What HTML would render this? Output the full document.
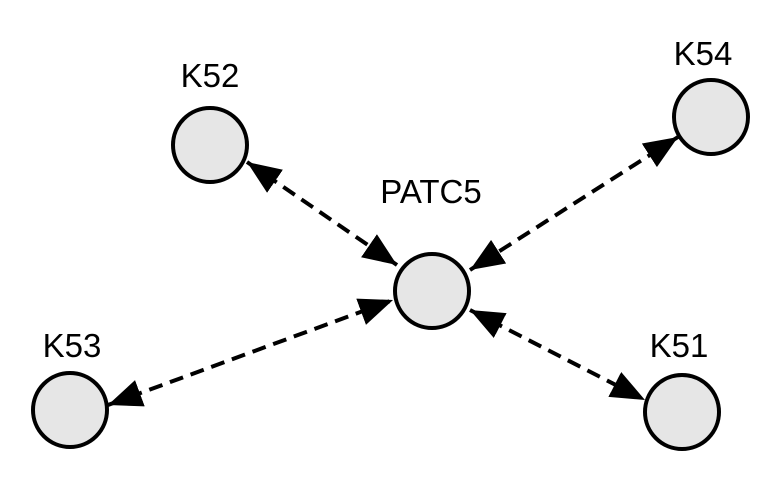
<!DOCTYPE html>
<html><head><style>body{margin:0;background:#fff}</style></head><body>
<svg width="781" height="484" xmlns="http://www.w3.org/2000/svg">
<defs>
<marker id="b" viewBox="0 0 34 28" refX="34" refY="14" markerWidth="34" markerHeight="28" orient="auto-start-reverse" markerUnits="userSpaceOnUse">
<path d="M0,0 L34,14 L0,28 z" fill="#000"/>
</marker>
</defs>
<g stroke="#000" stroke-width="4" stroke-dasharray="14,8" fill="none" marker-start="url(#b)" marker-end="url(#b)">
<line x1="247" y1="162" x2="397" y2="265"/>
<line x1="678" y1="137" x2="470" y2="270"/>
<line x1="108" y1="405" x2="393" y2="300"/>
<line x1="470" y1="310" x2="645" y2="400"/>
</g>
<g fill="#e6e6e6" stroke="#000" stroke-width="4">
<circle cx="210" cy="145" r="37"/>
<circle cx="711" cy="117" r="37"/>
<circle cx="432" cy="291" r="37"/>
<circle cx="70" cy="410" r="37"/>
<circle cx="682" cy="412" r="37"/>
</g>
<g font-family="Liberation Sans, sans-serif" font-size="33" text-anchor="middle" fill="#000">
<text x="210" y="87">K52</text>
<text x="703" y="65">K54</text>
<text x="431" y="203">PATC5</text>
<text x="72" y="357">K53</text>
<text x="679" y="357">K51</text>
</g>
</svg>
</body></html>
